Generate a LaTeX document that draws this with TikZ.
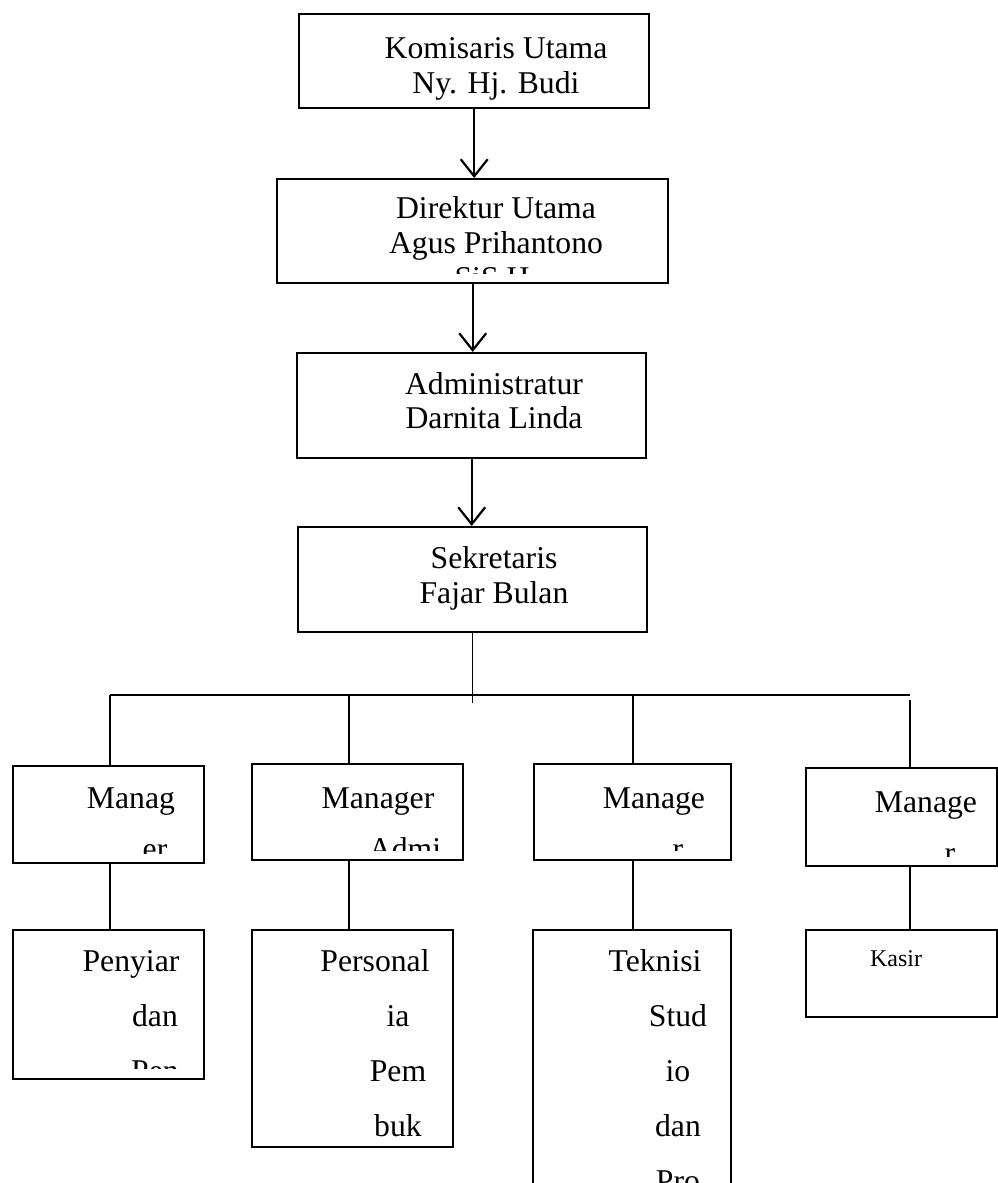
\documentclass[tikz,border=0pt]{standalone}
\usepackage{fontspec}
\setmainfont{Liberation Serif}
\usetikzlibrary{arrows.meta}

\tikzset{
  kotak/.style={draw, line width=2.4pt, inner sep=0pt, anchor=north west},
  teks/.style={font=\fontsize{31.7}{35}\selectfont, inner sep=0pt, anchor=base},
  panah/.style={line width=2.2pt, -{Straight Barb[length=17pt,width=27pt]}},
  garis/.style={line width=1.2pt},
}

\begin{document}
\begin{tikzpicture}[x=1pt,y=1pt,yscale=-1]
    \useasboundingbox (0,0) rectangle (997,1183);
    % pimpinan
    \node[kotak, minimum width=350, minimum height=94] (komisaris) at (298,13) {};
    \node[kotak, minimum width=391, minimum height=104] (direktur) at (276,178) {};
    \node[kotak, minimum width=349, minimum height=105] (admin) at (296,352) {};
    \node[kotak, minimum width=349, minimum height=105] (sekretaris) at (297,526) {};
    \node[teks] (k1) at (496,58) {Komisaris Utama};
    \node[teks] (k2) at (496,93) {Ny. Hj. Budi};
    \begin{scope}
        \clip (direktur.north west) rectangle ([yshift=-11pt]direktur.south east);
        \node[teks] (d1) at (496,218) {Direktur Utama};
        \node[teks] (d2) at (496,253) {Agus Prihantono};
        \node[teks] (d3) at (496,288) {SiS.H.};
    \end{scope}
    \node[teks] (a1) at (494,394) {Administratur};
    \node[teks] (a2) at (494,428) {Darnita Linda};
    \node[teks] (s1) at (494,568) {Sekretaris};
    \node[teks] (s2) at (494,603) {Fajar Bulan};
    \draw[panah] (komisaris.south) -- (komisaris.south |- direktur.north);
    \draw[panah] (direktur.south) -- (direktur.south |- admin.north);
    \draw[panah] (admin.south) -- (admin.south |- sekretaris.north);
    % garis cabang
    \coordinate (b1) at (110,695);
    \coordinate (b2) at (349,695);
    \coordinate (b3) at (633,695);
    \coordinate (b4) at (910,695);
    \draw[garis] (sekretaris.south) -- ++(0,70);
    \draw[garis] (b1) -- (b4);
    % manager
    \node[kotak, minimum width=191, minimum height=97] (mgr1) at (12,765) {};
    \node[kotak, minimum width=211, minimum height=96] (mgr2) at (251,763) {};
    \node[kotak, minimum width=197, minimum height=96] (mgr3) at (533,763) {};
    \node[kotak, minimum width=191, minimum height=98] (mgr4) at (805,767) {};
    \draw[garis] (b1) -- (b1 |- mgr1.north);
    \draw[garis] (b2) -- (b2 |- mgr2.north);
    \draw[garis] (b3) -- (b3 |- mgr3.north);
    \draw[garis] ([yshift=5pt]b4) -- (b4 |- mgr4.north);
    \begin{scope}
        \clip (mgr1.north west) rectangle ([yshift=-11pt]mgr1.south east);
        \node[teks] (m1a) at (131,808) {Manag};
        \node[teks] (m1b) at (155,859) {er};
    \end{scope}
    \begin{scope}
        \clip (mgr2.north west) rectangle ([yshift=-11pt]mgr2.south east);
        \node[teks] (m2a) at (378,808) {Manager};
        \node[teks] (m2b) at (405,859) {Admi};
    \end{scope}
    \begin{scope}
        \clip (mgr3.north west) rectangle ([yshift=-11pt]mgr3.south east);
        \node[teks] (m3a) at (654,808) {Manage};
        \node[teks] (m3b) at (678,859) {r};
    \end{scope}
    \begin{scope}
        \clip (mgr4.north west) rectangle ([yshift=-11pt]mgr4.south east);
        \node[teks] (m4a) at (926,812) {Manage};
        \node[teks] (m4b) at (950,863) {r};
    \end{scope}
    % bagian
    \node[kotak, minimum width=191, minimum height=149] (penyiar) at (12,929) {};
    \node[kotak, minimum width=201, minimum height=217] (personalia) at (251,929) {};
    \node[kotak, minimum width=198, minimum height=280] (teknisi) at (532,929) {};
    \node[kotak, minimum width=191, minimum height=87] (kasir) at (805,929) {};
    \draw[garis] (b1 |- mgr1.south) -- (b1 |- penyiar.north);
    \draw[garis] (b2 |- mgr2.south) -- (b2 |- personalia.north);
    \draw[garis] (b3 |- mgr3.south) -- (b3 |- teknisi.north);
    \draw[garis] (b4 |- mgr4.south) -- (b4 |- kasir.north);
    \begin{scope}
        \clip (penyiar.north west) rectangle ([yshift=-12pt]penyiar.south east);
        \node[teks] (p1) at (131,971) {Penyiar};
        \node[teks] (p2) at (155,1026) {dan};
        \node[teks] (p3) at (155,1081) {Pen};
    \end{scope}
    \begin{scope}
        \clip (personalia.north west) rectangle ([yshift=-11pt]personalia.south east);
        \node[teks] (r1) at (375,971) {Personal};
        \node[teks] (r2) at (398,1026) {ia};
        \node[teks] (r3) at (398,1081) {Pem};
        \node[teks] (r4) at (398,1136) {buk};
    \end{scope}
    \node[teks] (t1) at (655,971) {Teknisi};
    \node[teks] (t2) at (678,1026) {Stud};
    \node[teks] (t3) at (678,1081) {io};
    \node[teks] (t4) at (678,1136) {dan};
    \node[teks] (t5) at (678,1191) {Pro};
    \node[teks, font=\fontsize{24}{28}\selectfont] (ks) at (896,966) {Kasir};
\end{tikzpicture}
\end{document}
